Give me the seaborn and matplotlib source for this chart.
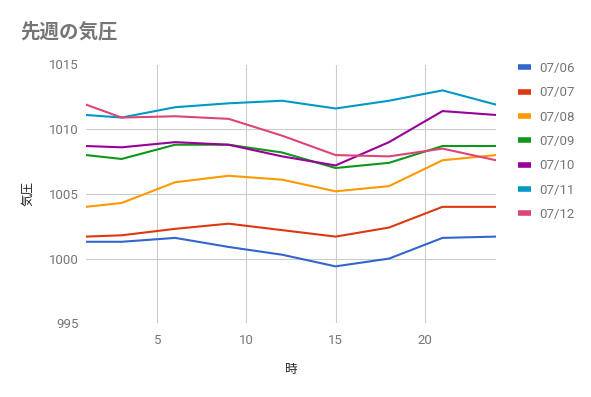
import matplotlib
matplotlib.use("Agg")
import matplotlib.pyplot as plt
import seaborn as sns
import pandas as pd
from matplotlib.lines import Line2D

hours = [1, 3, 6, 9, 12, 15, 18, 21, 24]
days = ["07/06", "07/07", "07/08", "07/09", "07/10", "07/11", "07/12"]
p_0706 = [1001.3, 1001.3, 1001.6, 1000.9, 1000.3, 999.4, 1000.0, 1001.6, 1001.7]
p_0707 = [1001.7, 1001.8, 1002.3, 1002.7, 1002.2, 1001.7, 1002.4, 1004.0, 1004.0]
p_0708 = [1004.0, 1004.3, 1005.9, 1006.4, 1006.1, 1005.2, 1005.6, 1007.6, 1008.0]
p_0709 = [1008.0, 1007.7, 1008.8, 1008.8, 1008.2, 1007.0, 1007.4, 1008.7, 1008.7]
p_0710 = [1008.7, 1008.6, 1009.0, 1008.8, 1007.9, 1007.2, 1009.0, 1011.4, 1011.1]
p_0711 = [1011.1, 1010.9, 1011.7, 1012.0, 1012.2, 1011.6, 1012.2, 1013.0, 1011.9]
p_0712 = [1011.9, 1010.9, 1011.0, 1010.8, 1009.5, 1008.0, 1007.9, 1008.5, 1007.6]
series = [p_0706, p_0707, p_0708, p_0709, p_0710, p_0711, p_0712]
colors = ["#3366cc", "#dc3912", "#ff9900", "#109618", "#990099", "#0099c6", "#dd4477"]
x_ticks = [5, 10, 15, 20]
y_ticks = [995, 1000, 1005, 1010, 1015]

rows = []
for d, vals in zip(days, series):
    for h, v in zip(hours, vals):
        rows.append({"時": h, "気圧": v, "日": d})
df = pd.DataFrame(rows)

sns.set_style("white")
plt.rcParams["font.family"] = ["Roboto", "Noto Sans CJK JP", "DejaVu Sans"]

fig = plt.figure(figsize=(5.91, 3.97), dpi=100)
ax = fig.add_axes([86/591, 1 - 323.3/397, (496-86)/591, (323.3-64.5)/397])

sns.lineplot(data=df, x="時", y="気圧", hue="日", palette=colors, ax=ax,
             linewidth=1.5, legend=False)

ax.set_xlim(1, 24)
ax.set_ylim(995, 1015)
ax.set_xticks(x_ticks)
ax.set_yticks(y_ticks)
ax.grid(True, color="#cccccc", linewidth=0.8)
for s in ax.spines.values():
    s.set_visible(False)
ax.tick_params(length=0, labelsize=9.5, labelcolor="#757575")
ax.tick_params(axis="y", pad=5)
ax.tick_params(axis="x", pad=8)
ax.set_xlabel("")
ax.set_ylabel("")

fig.text(28/591, 1 - 193/397, "気圧", rotation=90, ha="center", va="center",
         fontsize=9, color="#222222", family=["Noto Sans CJK JP", "DejaVu Sans"])
fig.text(291/591, 1 - 370/397, "時", ha="center", va="center",
         fontsize=9, color="#222222", family=["Noto Sans CJK JP", "DejaVu Sans"])
fig.text(20/591, 1 - 32/397, "先週の気圧", ha="left", va="center",
         fontsize=14, color="#757575", fontweight="bold",
         family=["Noto Sans CJK JP", "DejaVu Sans"])

handles = [Line2D([0], [0], color=c, linewidth=4, solid_capstyle="butt") for c in colors]
leg = fig.legend(handles, days, loc="upper left",
                 bbox_to_anchor=(506/591, 1 - 50/397), frameon=False,
                 handlelength=1.0, handletextpad=0.6, labelspacing=0.86,
                 fontsize=9.5, labelcolor="#757575")

fig.savefig("out.png", dpi=100)
